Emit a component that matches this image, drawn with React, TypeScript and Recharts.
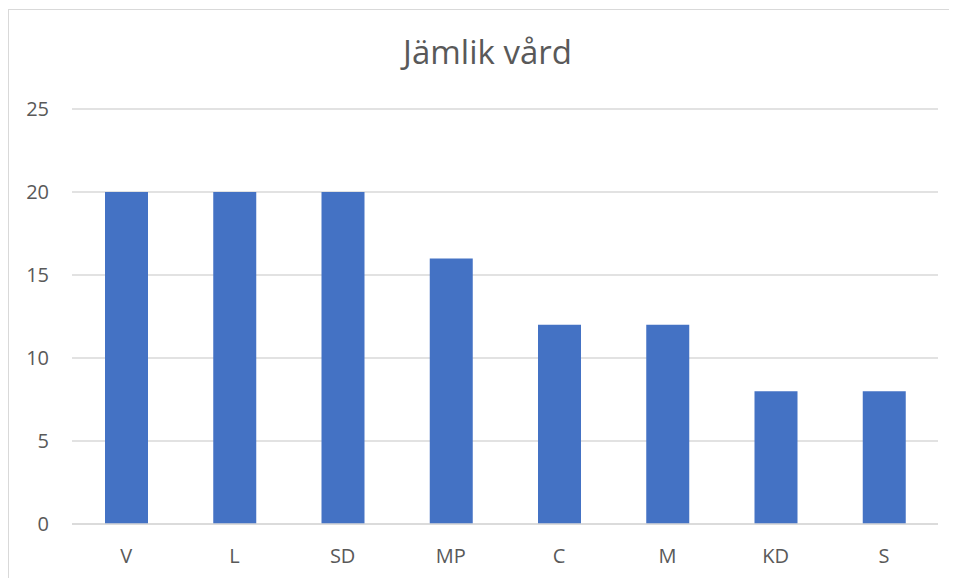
import { Bar, BarChart, CartesianGrid, XAxis, YAxis } from 'recharts'

const parties = ['V', 'L', 'SD', 'MP', 'C', 'M', 'KD', 'S']
const scores = [20, 20, 20, 16, 12, 12, 8, 8]
const yTicks = [0, 5, 10, 15, 20, 25]

const TEXT = '#595959'
const GRID = '#d9d9d9'
const BAR = '#4472c4'
const FONT = '"Open Sans", sans-serif'

const data = parties.map((party, i) => ({ party, score: scores[i] }))

export default function App() {
  return (
    <div
      style={{
        position: 'relative',
        width: 948,
        height: 570,
        marginTop: 1,
        borderLeft: `1px solid ${GRID}`,
        borderTop: `1px solid ${GRID}`,
        background: '#fff',
        fontFamily: FONT,
      }}
    >
      <div
        style={{
          position: 'absolute',
          top: 19,
          left: 0,
          width: 957,
          textAlign: 'center',
          fontSize: 33,
          color: TEXT,
        }}
      >
        Jämlik vård
      </div>
      <BarChart
        width={948}
        height={569}
        data={data}
        margin={{ top: 99, right: 19, bottom: 0, left: 0 }}
      >
        <CartesianGrid vertical={false} stroke={GRID} strokeWidth={1.5} />
        <XAxis
          dataKey="party"
          height={55}
          axisLine={{ stroke: GRID, strokeWidth: 1.5 }}
          tickLine={false}
          tickSize={0}
          tickMargin={25}
          tick={{ fill: TEXT, fontSize: 20, fontFamily: FONT }}
        />
        <YAxis
          width={63}
          domain={[0, 25]}
          ticks={yTicks}
          axisLine={false}
          tickLine={false}
          tickSize={0}
          tickMargin={23}
          tick={{ fill: TEXT, fontSize: 20, fontFamily: FONT }}
        />
        <Bar dataKey="score" fill={BAR} barSize={43} isAnimationActive={false} />
      </BarChart>
    </div>
  )
}
